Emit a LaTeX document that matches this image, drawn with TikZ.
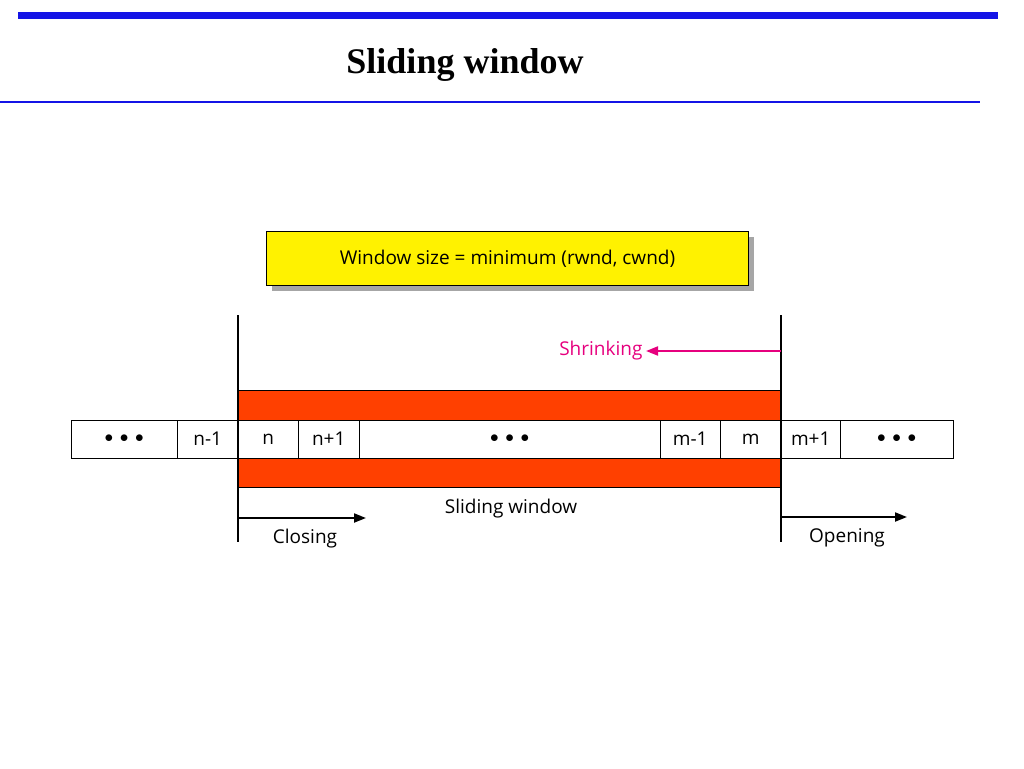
\documentclass[tikz,border=0pt]{standalone}
\usepackage{fontspec}
\setmainfont{Liberation Serif}
\newfontfamily\mysf{Open Sans}
\usetikzlibrary{arrows.meta}
\definecolor{myblue}{RGB}{20,20,230}
\definecolor{mag}{RGB}{230,0,126}
\definecolor{win}{RGB}{255,64,0}
\begin{document}
\begin{tikzpicture}[x=1pt,y=-1pt,
  cell/.style={draw,fill=white,minimum height=38pt,inner sep=0pt,font=\mysf\fontsize{19}{19}\selectfont,anchor=west},
  lab/.style={font=\mysf\fontsize{19}{19}\selectfont},
  arr/.style={line width=2pt,-{Triangle[length=12pt,width=9pt]}}]
\useasboundingbox (0,0) rectangle (1024,768);
\draw[myblue,line width=7pt] (18,16) -- (998,16);
\node[font=\bfseries\fontsize{36}{36}\selectfont] (title) at (465,65) {Sliding window};
\draw[myblue,line width=1.8pt] (0,102) -- (980,102);
\fill[gray!70] (272,237) rectangle (754,291);
\node[draw,fill=yellow,line width=1pt,minimum width=482pt,minimum height=54pt,anchor=north west,font=\mysf\fontsize{19}{19}\selectfont] (box) at (266,231) {Window size = minimum (rwnd, cwnd)};
\fill[win,draw=black] (238,390) rectangle (781,487);
\foreach \a/\b/\t/\n in {71/177/{$\bullet\,\bullet\,\bullet$}/c1,177/238/n-1/c2,238/298/n/c3,298/359/n+1/c4,359/660/{$\bullet\,\bullet\,\bullet$}/c5,660/720/m-1/c6,720/781/m/c7,781/840/m+1/c8,840/953/{$\bullet\,\bullet\,\bullet$}/c9}
  \node[cell,minimum width=\b-\a] (\n) at (\a,439) {\t};
\draw[line width=1.2pt] (238,315) coordinate (l1) -- (238,542) coordinate (l2);
\draw[line width=1.2pt] (781,315) coordinate (r1) -- (781,542) coordinate (r2);
\node[lab,text=mag,anchor=east] (shr) at (646,351) {Shrinking};
\draw[arr,mag] (781,351) -- (shr.east);
\node[lab] (sw) at (511,509) {Sliding window};
\coordinate (ce) at (366,518);
\draw[arr] (238,518) -- (ce);
\node[lab] (cl) at (305,539) {Closing};
\coordinate (oe) at (907,517);
\draw[arr] (781,517) -- (oe);
\node[lab] (op) at (847,538) {Opening};
\end{tikzpicture}
\end{document}
